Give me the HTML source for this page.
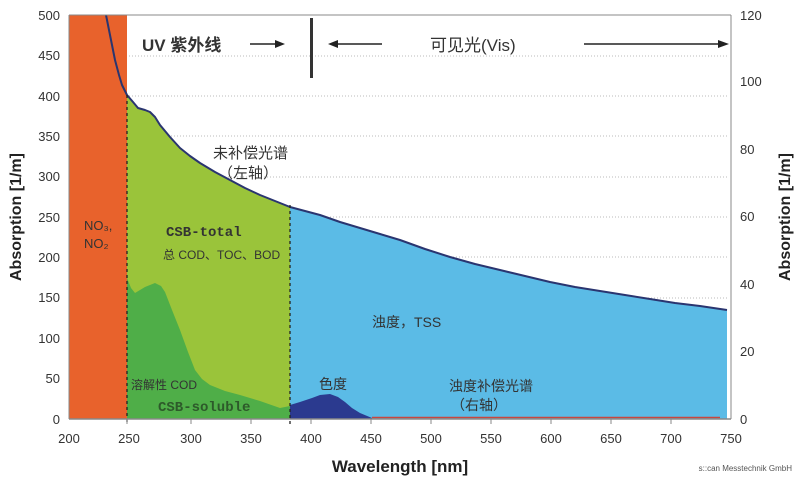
<!DOCTYPE html>
<html><head><meta charset="utf-8"><style>
body{margin:0;background:#fff;}
svg text{font-family:"Liberation Sans","Noto Sans CJK SC",sans-serif;}
svg text.mono{font-family:"Liberation Mono","Noto Sans CJK SC",monospace;}
</style></head><body>
<svg width="800" height="481" viewBox="0 0 800 481" xmlns="http://www.w3.org/2000/svg">
<rect width="800" height="481" fill="#fff"/>
<g stroke="#bbb" stroke-dasharray="1,2" stroke-width="1">
<line x1="69" y1="56" x2="729" y2="56"/><line x1="69" y1="96" x2="729" y2="96"/>
<line x1="69" y1="136" x2="729" y2="136"/><line x1="69" y1="177" x2="729" y2="177"/>
<line x1="69" y1="217" x2="729" y2="217"/><line x1="69" y1="257" x2="729" y2="257"/>
<line x1="69" y1="298" x2="729" y2="298"/><line x1="69" y1="338" x2="729" y2="338"/>
<line x1="69" y1="378" x2="729" y2="378"/>
</g>
<rect x="69" y="15" width="58" height="404" fill="#e8622c"/>
<path d="M127,95 L133,102 L138,108 L145,110 L150,112 L155,117 L160,125 L170,137 L180,148 L190,156 L200,163 L215,172 L230,180 L245,188 L260,195 L275,201 L290,207 L290,419 L127,419 Z" fill="#9ac43a"/>
<path d="M127,278 L131,288 L135,293 L145,287 L155,283 L161,286 L165,292 L172,310 L180,330 L188,352 L195,370 L202,379 L210,385 L225,391 L240,395 L260,401 L280,408 L290,406 L290,419 L127,419 Z" fill="#4fae48"/>
<path d="M290,207 L305,211 L320,215 L340,222 L360,228 L380,234 L400,240 L425,249 L450,257 L475,264 L500,270 L525,276 L550,282 L575,287 L600,291 L625,295 L650,299 L675,303 L700,306 L727,310 L727,419 L290,419 Z" fill="#5bbbe6"/>
<path d="M290,405 L300,402 L312,398 L320,395 L330,394 L338,397 L345,402 L352,408 L360,413 L372,418 L372,419 L290,419 Z" fill="#2b3a8f"/>
<line x1="372" y1="417.5" x2="720" y2="417.5" stroke="#c8463e" stroke-width="1.5"/>
<path d="M106,15 L110,35 L115,60 L119,75 L122,85 L127,95 L133,102 L138,108 L145,110 L150,112 L155,117 L160,125 L170,137 L180,148 L190,156 L200,163 L215,172 L230,180 L245,188 L260,195 L275,201 L290,207 L305,211 L320,215 L340,222 L360,228 L380,234 L400,240 L425,249 L450,257 L475,264 L500,270 L525,276 L550,282 L575,287 L600,291 L625,295 L650,299 L675,303 L700,306 L727,310" fill="none" stroke="#2a3570" stroke-width="2" stroke-linejoin="round"/>
<line x1="127" y1="95" x2="127" y2="425" stroke="#222" stroke-width="1.3" stroke-dasharray="3,3"/>
<line x1="290" y1="205" x2="290" y2="425" stroke="#222" stroke-width="1.3" stroke-dasharray="3,3"/>
<line x1="69" y1="15" x2="731" y2="15" stroke="#888" stroke-width="1"/>
<line x1="69" y1="15" x2="69" y2="419" stroke="#888"/>
<line x1="731" y1="15" x2="731" y2="419" stroke="#888"/>
<line x1="69" y1="419" x2="731" y2="419" stroke="#888" stroke-width="1.5"/>
<g stroke="#888">
<line x1="127" y1="419" x2="127" y2="424"/><line x1="191" y1="419" x2="191" y2="424"/><line x1="251" y1="419" x2="251" y2="424"/><line x1="311" y1="419" x2="311" y2="424"/><line x1="371" y1="419" x2="371" y2="424"/><line x1="431" y1="419" x2="431" y2="424"/><line x1="491" y1="419" x2="491" y2="424"/><line x1="551" y1="419" x2="551" y2="424"/><line x1="611" y1="419" x2="611" y2="424"/><line x1="671" y1="419" x2="671" y2="424"/>
</g>
<g font-size="13" fill="#333" text-anchor="end">
<text x="60" y="20">500</text><text x="60" y="60">450</text><text x="60" y="101">400</text><text x="60" y="141">350</text><text x="60" y="181">300</text><text x="60" y="222">250</text><text x="60" y="262">200</text><text x="60" y="302">150</text><text x="60" y="343">100</text><text x="60" y="383">50</text><text x="60" y="424">0</text>
</g>
<g font-size="13" fill="#333" text-anchor="start">
<text x="740" y="20">120</text><text x="740" y="86">100</text><text x="740" y="154">80</text><text x="740" y="221">60</text><text x="740" y="289">40</text><text x="740" y="356">20</text><text x="740" y="424">0</text>
</g>
<g font-size="13" fill="#333" text-anchor="middle">
<text x="69" y="443">200</text><text x="129" y="443">250</text><text x="191" y="443">300</text><text x="251" y="443">350</text><text x="311" y="443">400</text><text x="371" y="443">450</text><text x="431" y="443">500</text><text x="491" y="443">550</text><text x="551" y="443">600</text><text x="611" y="443">650</text><text x="671" y="443">700</text><text x="731" y="443">750</text>
</g>
<text x="400" y="472" font-size="17" font-weight="bold" fill="#222" text-anchor="middle">Wavelength [nm]</text>
<text transform="translate(21,217) rotate(-90)" font-size="16" font-weight="bold" fill="#222" text-anchor="middle">Absorption [1/m]</text>
<text transform="translate(790,217) rotate(-90)" font-size="16" font-weight="bold" fill="#222" text-anchor="middle">Absorption [1/m]</text>
<text x="792" y="471" font-size="8" fill="#555" text-anchor="end">s::can Messtechnik GmbH</text>
<text x="142" y="51" font-size="17" font-weight="bold" fill="#333">UV 紫外线</text>
<line x1="250" y1="44" x2="278" y2="44" stroke="#222" stroke-width="1.5"/><path d="M285,44 L275,40 L275,48 Z" fill="#222"/>
<rect x="310" y="18" width="3" height="60" fill="#333"/>
<line x1="336" y1="44" x2="382" y2="44" stroke="#222" stroke-width="1.5"/><path d="M328,44 L338,40 L338,48 Z" fill="#222"/>
<text x="430" y="51" font-size="17" fill="#333">可见光(Vis)</text>
<line x1="584" y1="44" x2="720" y2="44" stroke="#222" stroke-width="1.5"/><path d="M729,44 L718,40 L718,48 Z" fill="#222"/>
<text x="213" y="158" font-size="15" fill="#333">未补偿光谱</text>
<text x="218" y="178" font-size="15" fill="#333">（左轴）</text>
<text x="84" y="230" font-size="13" fill="#333">NO₃,</text>
<text x="84" y="248" font-size="13" fill="#333">NO₂</text>
<text x="166" y="236" font-size="14" font-weight="bold" fill="#333" class="mono">CSB-total</text>
<text x="163" y="259" font-size="12" fill="#333">总 COD、TOC、BOD</text>
<text x="131" y="389" font-size="12" fill="#333">溶解性 COD</text>
<text x="158" y="411" font-size="14" font-weight="bold" fill="#2d5a2a" class="mono">CSB-soluble</text>
<text x="372" y="327" font-size="14" fill="#333">浊度，TSS</text>
<text x="319" y="389" font-size="14" fill="#333">色度</text>
<text x="449" y="391" font-size="14" fill="#333">浊度补偿光谱</text>
<text x="451" y="410" font-size="14" fill="#333">（右轴）</text>
</svg>
</body></html>
